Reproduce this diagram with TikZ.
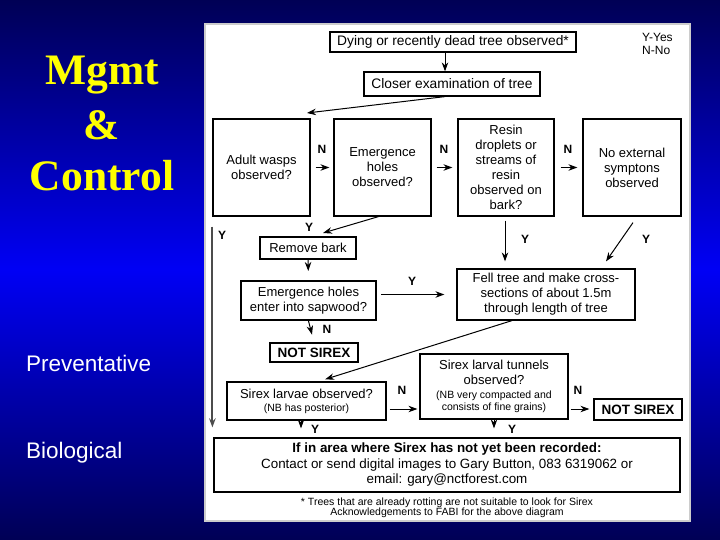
\documentclass[tikz,border=0pt]{standalone}
\usepackage{fontspec}
\setmainfont{Liberation Sans}
\newfontfamily\titlefont{Liberation Serif}
\usepackage{xcolor}
\usetikzlibrary{arrows.meta,positioning}

\definecolor{navy}{RGB}{0,0,85}
\definecolor{brightblue}{RGB}{0,0,245}
\definecolor{titleyellow}{RGB}{255,255,0}

\tikzset{
  box/.style={draw=black, line width=1.2pt, fill=white, inner sep=1pt,
    align=center, font=\fontsize{13}{15}\selectfont},
  arr/.style={-{Stealth[length=9pt,width=6.5pt]}, line width=1pt},
  lab/.style={font=\bfseries\fontsize{12}{12}\selectfont, inner sep=0pt},
  small/.style={font=\fontsize{10.5}{10}\selectfont},
  heading/.style={text=titleyellow, font=\titlefont\bfseries\fontsize{43.5}{44}\selectfont, anchor=base},
  sidetext/.style={text=white, font=\fontsize{22.5}{23}\selectfont, anchor=base west, inner sep=0pt}
}

\begin{document}
\begin{tikzpicture}[x=1pt, y=-1pt]
    % Background
    \useasboundingbox (0,0) rectangle (720,540);
    \shade[top color=navy, bottom color=navy, middle color=brightblue] (0,0) rectangle (720,540);

    % Left titles
    \node[heading] (mgmt) at (102,85) {Mgmt};
    \node[heading] (amp) at (102,140) {\&};
    \node[heading] (control) at (102,191) {Control};
    \node[sidetext] (prev) at (26,371) {Preventative};
    \node[sidetext] (bio) at (26,458) {Biological};

    % White panel
    \fill[white, draw=gray!40, line width=1.5pt] (205,24) rectangle (690,521);

    % Legend
    \node[font=\fontsize{12}{13}\selectfont, align=left, anchor=north west, inner sep=0pt] (legend) at (642,33) {Y-Yes\\N-No};

    % Boxes
    \node[box, font=\fontsize{13.8}{15}\selectfont, minimum width=246, minimum height=20] (dying) at (453,42) {Dying or recently dead tree observed*};
    \node[box, font=\fontsize{13.8}{15}\selectfont, minimum width=176, minimum height=24] (closer) at (452,84) {Closer examination of tree};

    \node[box, minimum width=97, minimum height=97] (wasps) at (261.5,167.5) {Adult wasps\\observed?};
    \node[box, minimum width=97, minimum height=97] (holes) at (382.5,167.5) {Emergence\\holes\\observed?};
    \node[box, minimum width=96, minimum height=97] (resin) at (506,167.5) {Resin\\droplets or\\streams of\\resin\\observed on\\bark?};
    \node[box, minimum width=98, minimum height=97] (nosym) at (632,167.5) {No external\\symptons\\observed};

    \node[box, minimum width=96, minimum height=22] (bark) at (308,248) {Remove bark};
    \node[box, line width=2pt, minimum width=135, minimum height=39] (sapwood) at (308.5,300.5) {Emergence holes\\enter into sapwood?};
    \node[box, minimum width=178, minimum height=51] (fell) at (546,294.5) {Fell tree and make cross-\\sections of about 1.5m\\through length of tree};

    \node[box, font=\bfseries\fontsize{13.5}{15}\selectfont, minimum width=88, minimum height=19] (notA) at (314,352.5) {NOT SIREX};
    \node[box, minimum width=159, minimum height=38] (larvae) at (306.5,401) {Sirex larvae observed?\\[-2pt]{\fontsize{10.5}{11}\selectfont(NB has posterior)}};
    \node[box, minimum width=148, minimum height=65] (tunnels) at (494,386.5) {Sirex larval tunnels\\observed?\\[-1.5pt]{\fontsize{10.5}{11}\selectfont(NB very compacted and}\\[-2.5pt]{\fontsize{10.5}{11}\selectfont consists of fine grains)}};
    \node[box, font=\bfseries\fontsize{13.5}{15}\selectfont, minimum width=88, minimum height=21] (notB) at (638,409.5) {NOT SIREX};

    \node[box, minimum width=466, minimum height=54, font=\fontsize{13.4}{15.5}\selectfont] (contact) at (447,465)
      {\textbf{If in area where Sirex has not yet been recorded:}\\Contact or send digital images to Gary Button, 083 6319062 or\\email: gary@nctforest.com};

    \node[small, align=center, inner sep=0pt] (note) at (447,508) {* Trees that are already rotting are not suitable to look for Sirex\\Acknowledgements to FABI for the above diagram};

    % Connectors
    \coordinate (waspsin) at (307,113);
    \coordinate (barkin) at (323,233);
    \draw[arr] ([xshift=-8pt]dying.south) -- ([xshift=-7pt]closer.north);
    \draw[arr] ([xshift=-7pt]closer.south) -- (waspsin);
    \draw[arr, shorten <=5pt, shorten >=4pt] (wasps) -- (holes);
    \draw[arr, shorten <=5pt, shorten >=5pt] (holes) -- (resin);
    \draw[arr, shorten <=6pt, shorten >=5pt] (resin) -- (nosym);
    \draw[arr] ([xshift=-4pt]holes.south) -- (barkin);
    \draw[arr, line width=2pt, draw=black!70] ([yshift=-10pt]wasps.south west) -- ([xshift=-1pt,yshift=10pt]contact.north west);
    \draw[arr, shorten <=4pt, shorten >=7pt] ([xshift=-1pt]resin.south) -- ([xshift=-1pt]resin.south |- fell.north);
    \draw[arr] ([xshift=1pt,yshift=-6pt]nosym.south) -- ([xshift=60pt,yshift=7pt]fell.north);
    \draw[arr, shorten >=9pt] (bark.south) -- (sapwood.north);
    \draw[arr, shorten <=4pt, shorten >=12pt] (sapwood.east |- fell.west) -- (fell.west);
    \draw[arr, shorten >=8pt] (sapwood.south) -- (notA.north);
    \draw[arr, shorten >=7pt] ([xshift=-34pt]fell.south) -- ([xshift=12pt]larvae.north);
    \draw[arr, shorten <=3pt, shorten >=2pt] ([yshift=-8pt]larvae.east) -- ([yshift=-8pt]larvae.east -| tunnels.west);
    \draw[arr, shorten <=2pt, shorten >=4pt] ([yshift=-8pt]larvae.east -| tunnels.east) -- ([yshift=-8pt]larvae.east -| notB.west);
    \draw[arr, shorten >=9pt] ([xshift=-5.5pt]larvae.south) -- ([xshift=-5.5pt]larvae.south |- contact.north);
    \draw[arr, shorten >=9pt] (tunnels.south) -- (tunnels.south |- contact.north);

    % Yes / No labels
    \node[lab] (n1) at (322,149) {N};
    \node[lab] (n2) at (444,149) {N};
    \node[lab] (n3) at (568,149) {N};
    \node[lab] (y1) at (309,227) {Y};
    \node[lab] (y2) at (222,235) {Y};
    \node[lab] (y3) at (525,239) {Y};
    \node[lab] (y4) at (646,239) {Y};
    \node[lab] (y5) at (412,281) {Y};
    \node[lab] (n4) at (327,329) {N};
    \node[lab] (n5) at (402,390) {N};
    \node[lab] (n6) at (578,390) {N};
    \node[lab] (y6) at (315,429) {Y};
    \node[lab] (y7) at (512,429) {Y};
\end{tikzpicture}
\end{document}
